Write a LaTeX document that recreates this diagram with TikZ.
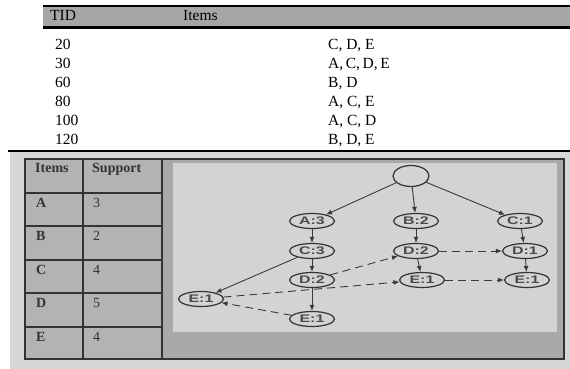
\documentclass[tikz,border=0pt]{standalone}
\usepackage{fontspec}
\setmainfont{Liberation Serif}
\newfontfamily\treefont[FakeStretch=1.45]{Liberation Sans}
\usetikzlibrary{arrows.meta,shapes.geometric}

\definecolor{hdrgray}{HTML}{A6A6A6}
\definecolor{panelgray}{HTML}{D6D6D6}
\definecolor{framegray}{HTML}{A9A9A9}
\definecolor{cellgray}{HTML}{B3B3B3}
\definecolor{treegray}{HTML}{D3D3D3}
\definecolor{gridline}{HTML}{333333}
\definecolor{linkgray}{HTML}{3A3A3A}
\definecolor{nodetext}{HTML}{4A4A4A}

\tikzset{
  toprow/.style={anchor=base west,inner sep=0pt,font=\fontsize{15.5}{18}\selectfont},
  cell/.style={anchor=base west,inner sep=0pt,text=gridline,font=\fontsize{14}{14}\selectfont\bfseries},
  fp/.style={ellipse,draw=gridline,line width=1.2pt,minimum width=45pt,minimum height=15pt,
    inner sep=0pt,text=nodetext,font=\treefont\fontsize{11}{11}\selectfont\bfseries},
  lnk/.style={draw=linkgray,line width=0.9pt,-{Latex[length=6pt,width=5pt]}},
  xlnk/.style={lnk,dash pattern=on 8pt off 5pt}
}

\begin{document}
\begin{tikzpicture}[x=1pt,y=-1pt]
\useasboundingbox (0,0) rectangle (570,369);

\fill[hdrgray] (43,6) rectangle (570,28);
\draw[line width=2.5pt] (43,6) -- (570,6);
\draw[line width=3pt] (43,27.5) -- (570,27.5);
\node[toprow] (tidhead) at (50,20.5) {TID};
\node[toprow] (itemshead) at (183,20.5) {Items};
\foreach \tid/\its [count=\i] in {20/{C, D, E},30/{A,\,C,\,D,\,E},60/{B, D},80/{A, C, E},100/{A, C, D},120/{B, D, E}}{
  \node[toprow] (tid\i) at (55,{30.5+19*\i}) {\tid};
  \node[toprow] (its\i) at (328,{30.5+19*\i}) {\its};
}
\draw[line width=1.5pt] (8,151) -- (570,151);

\fill[panelgray] (10,152) rectangle (570,369);
\filldraw[fill=framegray,draw=gridline,line width=1.2pt] (25,159) rectangle (564,359);
\fill[treegray] (173,163) rectangle (557,332);

\fill[cellgray] (25,159) rectangle (162,359);
\draw[gridline,line width=1.5pt] (25,159) rectangle (162,359) (83,159) -- (83,359);
\foreach \y in {193,226,260,293,327}
  \draw[gridline,line width=1.5pt] (25,\y) -- (162,\y);
\node[cell] (itemcol) at (35,172) {Items};
\node[cell] (supcol) at (92,172) {Support};
\foreach \itm/\cnt [count=\i] in {A/3,B/2,C/4,D/5,E/4}{
  \node[cell] (itm\i) at (36,{173.5+33.5*\i}) {\itm};
  \node[cell,font=\fontsize{14}{14}\selectfont] (cnt\i) at (93,{173.5+33.5*\i}) {\cnt};
}

\node[fp,minimum width=36pt,minimum height=21pt] (root) at (411,176) {};
\node[fp] (A3) at (312,221) {A:3};
\node[fp] (B2) at (416,221) {B:2};
\node[fp] (C1) at (520,221) {C:1};
\node[fp] (C3) at (312,251) {C:3};
\node[fp] (D2b) at (416,251) {D:2};
\node[fp] (D1) at (525,251) {D:1};
\node[fp] (D2a) at (312,280) {D:2};
\node[fp] (E1b) at (422,280) {E:1};
\node[fp] (E1c) at (527,280) {E:1};
\node[fp] (E1l) at (201,299) {E:1};
\node[fp] (E1a) at (312,319) {E:1};

\draw[lnk] (root) -- (A3);
\draw[lnk] (root) -- (B2);
\draw[lnk] (root) -- (C1);
\draw[lnk] (A3) -- (C3);
\draw[lnk] (C3) -- (D2a);
\draw[lnk] (D2a) -- (E1a);
\draw[lnk] (C3) -- (E1l);
\draw[lnk] (B2) -- (D2b);
\draw[lnk] (D2b) -- (E1b);
\draw[lnk] (C1) -- (D1);
\draw[lnk] (D1) -- (E1c);

\draw[xlnk] (D2b) -- (D1);
\draw[xlnk] (E1b) -- (E1c);
\draw[xlnk] (D2a) -- (D2b);
\draw[xlnk] (E1l) -- (E1b);
\draw[xlnk] (E1a) -- (E1l);
\end{tikzpicture}
\end{document}
